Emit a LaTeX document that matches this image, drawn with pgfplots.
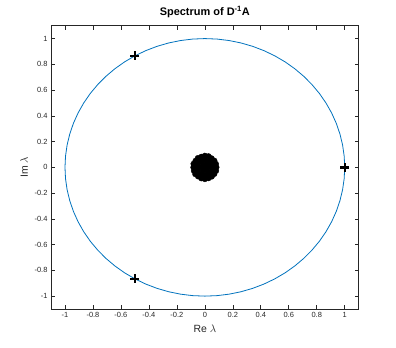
\documentclass[border=0pt]{standalone}
\usepackage{pgfplots}
\pgfplotsset{compat=1.18}
\usepackage{fontspec}
\setmainfont{Liberation Sans}
\definecolor{mblue}{rgb}{0,0.447,0.741}
\definecolor{axgray}{rgb}{0.15,0.15,0.15}
\begin{document}
\begin{tikzpicture}
\path[use as bounding box] (-51bp,-39bp) rectangle (345bp,309bp);
\begin{axis}[at={(0,0)}, anchor=south west, scale only axis,
  width=307.7bp, height=283.3bp,
  xmin=-1.1, xmax=1.1, ymin=-1.1, ymax=1.1,
  xtick={-1,-0.8,-0.6,-0.4,-0.2,0,0.2,0.4,0.6,0.8,1},
  ytick={-1,-0.8,-0.6,-0.4,-0.2,0,0.2,0.4,0.6,0.8,1},
  tick align=inside,
  major tick length=4bp,
  axis line style={axgray, line width=0.6bp},
  tick style={axgray, line width=0.6bp},
  ticklabel style={font=\fontsize{7.5}{9}\selectfont, text=axgray},
  /pgf/number format/assume math mode=true,
  title={\textbf{Spectrum of D\textsuperscript{-1}A}},
  title style={font=\fontsize{11}{13}\selectfont, yshift=-2bp},
  xlabel={Re $\lambda$}, ylabel={Im $\lambda$},
  label style={font=\fontsize{10.5}{12}\selectfont, text=axgray},
  clip=false,
]
\addplot[mblue, line width=0.8bp] coordinates {
(1.0000,0.0000)(0.9962,0.0872)(0.9848,0.1736)(0.9659,0.2588)(0.9397,0.3420)(0.9063,0.4226)(0.8660,0.5000)(0.8192,0.5736)(0.7660,0.6428)(0.7071,0.7071)(0.6428,0.7660)(0.5736,0.8192)(0.5000,0.8660)(0.4226,0.9063)(0.3420,0.9397)(0.2588,0.9659)(0.1736,0.9848)(0.0872,0.9962)(0.0000,1.0000)
(-0.0872,0.9962)(-0.1736,0.9848)(-0.2588,0.9659)(-0.3420,0.9397)(-0.4226,0.9063)(-0.5000,0.8660)(-0.5736,0.8192)(-0.6428,0.7660)(-0.7071,0.7071)(-0.7660,0.6428)(-0.8192,0.5736)(-0.8660,0.5000)(-0.9063,0.4226)(-0.9397,0.3420)(-0.9659,0.2588)(-0.9848,0.1736)(-0.9962,0.0872)(-1.0000,0.0000)
(-0.9962,-0.0872)(-0.9848,-0.1736)(-0.9659,-0.2588)(-0.9397,-0.3420)(-0.9063,-0.4226)(-0.8660,-0.5000)(-0.8192,-0.5736)(-0.7660,-0.6428)(-0.7071,-0.7071)(-0.6428,-0.7660)(-0.5736,-0.8192)(-0.5000,-0.8660)(-0.4226,-0.9063)(-0.3420,-0.9397)(-0.2588,-0.9659)(-0.1736,-0.9848)(-0.0872,-0.9962)(0.0000,-1.0000)
(0.0872,-0.9962)(0.1736,-0.9848)(0.2588,-0.9659)(0.3420,-0.9397)(0.4226,-0.9063)(0.5000,-0.8660)(0.5736,-0.8192)(0.6428,-0.7660)(0.7071,-0.7071)(0.7660,-0.6428)(0.8192,-0.5736)(0.8660,-0.5000)(0.9063,-0.4226)(0.9397,-0.3420)(0.9659,-0.2588)(0.9848,-0.1736)(0.9962,-0.0872)(1.0000,0.0000)
};
\addplot[only marks, mark=*, mark size=2.8bp, black] coordinates {
(0.083,0)(0.0790,0.0270)(0.0680,0.0520)(0.0480,0.0700)(0.0262,0.0860)(0,0.090)(-0.0250,0.0820)(-0.0500,0.0720)(-0.0665,0.0510)(-0.0810,0.0275)(-0.082,0)(-0.0780,-0.0270)(-0.0685,-0.0525)(-0.0485,-0.0700)(-0.0258,-0.0850)(0,-0.091)(0.0262,-0.0840)(0.0495,-0.0715)(0.0675,-0.0515)(0.0800,-0.0272)
(0.055,0)(0.0476,0.0290)(0.0275,0.0500)(0,0.058)(-0.0275,0.0500)(-0.0476,0.0290)(-0.055,0)(-0.0476,-0.0290)(-0.0275,-0.0500)(0,-0.058)(0.0275,-0.0500)(0.0476,-0.0290)
(0.025,0)(0.0125,0.0230)(-0.0125,0.0230)(-0.025,0)(-0.0125,-0.0230)(0.0125,-0.0230)(0,0)
};
\addplot[only marks, mark=+, mark size=4.5bp, line width=2.4bp, black] coordinates {
(1,0)(-0.5,0.8660)(-0.5,-0.8660)
};
\end{axis}
\end{tikzpicture}
\end{document}
